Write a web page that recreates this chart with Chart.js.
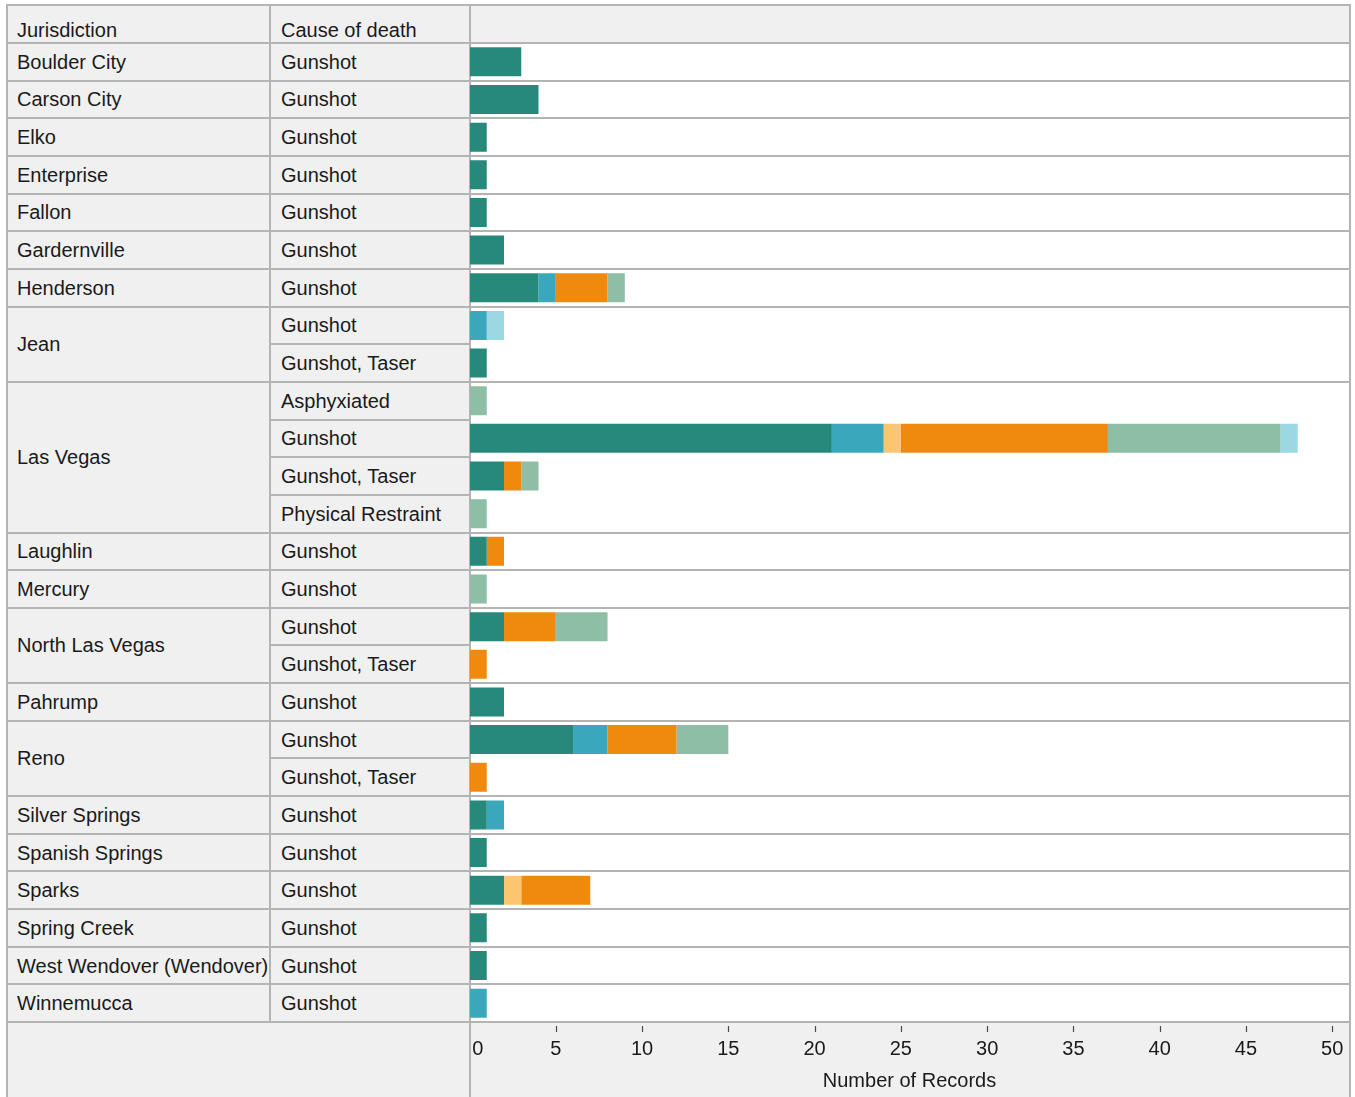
<!DOCTYPE html>
<html>
<head>
<meta charset="utf-8">
<script src="https://cdn.jsdelivr.net/npm/chart.js@4.4.1/dist/chart.umd.min.js"></script>
<style>
  html, body { margin: 0; padding: 0; background: #ffffff; }
  body { width: 1355px; height: 1097px; position: relative; overflow: hidden;
         font-family: "Liberation Sans", Arial, sans-serif; font-size: 20px; color: #1a1a1a; }
  .abs { position: absolute; box-sizing: border-box; }
  .bg { background: #f0f0f0; }
  .line { background: #b4b4b4; }
  .cell { display: flex; align-items: center; white-space: nowrap; line-height: 24px; }
  .hdr { line-height: 24px; white-space: nowrap; }
  #chart { position: absolute; left: 0; top: 0; pointer-events: none; }
</style>
</head>
<body>
<div id="table"></div>
<canvas id="chart" width="1355" height="1097"></canvas>
<script>
// ---- data ----
const jurisdictions = [
  "Boulder City", "Carson City", "Elko", "Enterprise", "Fallon", "Gardernville",
  "Henderson", "Jean", "Jean", "Las Vegas", "Las Vegas", "Las Vegas", "Las Vegas",
  "Laughlin", "Mercury", "North Las Vegas", "North Las Vegas", "Pahrump",
  "Reno", "Reno", "Silver Springs", "Spanish Springs", "Sparks", "Spring Creek",
  "West Wendover (Wendover)", "Winnemucca"
];
const causes = [
  "Gunshot", "Gunshot", "Gunshot", "Gunshot", "Gunshot", "Gunshot",
  "Gunshot", "Gunshot", "Gunshot, Taser", "Asphyxiated", "Gunshot", "Gunshot, Taser", "Physical Restraint",
  "Gunshot", "Gunshot", "Gunshot", "Gunshot, Taser", "Gunshot",
  "Gunshot", "Gunshot, Taser", "Gunshot", "Gunshot", "Gunshot", "Gunshot",
  "Gunshot", "Gunshot"
];
const tealSeries        = [3,4,1,1,1,2,4,0,1,0,21,2,0,1,0,2,0,2,6,0,1,1,2,1,1,0];
const blueSeries        = [0,0,0,0,0,0,1,1,0,0,3,0,0,0,0,0,0,0,2,0,1,0,0,0,0,1];
const lightOrangeSeries = [0,0,0,0,0,0,0,0,0,0,1,0,0,0,0,0,0,0,0,0,0,0,1,0,0,0];
const orangeSeries      = [0,0,0,0,0,0,3,0,0,0,12,1,0,1,0,3,1,0,4,1,0,0,4,0,0,0];
const sageSeries        = [0,0,0,0,0,0,1,0,0,1,10,1,1,0,1,3,0,0,3,0,0,0,0,0,0,0];
const lightCyanSeries   = [0,0,0,0,0,0,0,1,0,0,1,0,0,0,0,0,0,0,0,0,0,0,0,0,0,0];
const xTickValues = [0,5,10,15,20,25,30,35,40,45,50];
const headers = ["Jurisdiction", "Cause of death"];
const xAxisTitle = "Number of Records";

// ---- layout ----
const L = 7, COL2 = 270, CHARTL = 469.5, R = 1349.5;
const TOP = 5, BODY_TOP = 43, BODY_BOT = 1022, PAGE_BOT = 1097;
const N = jurisdictions.length;
const rowH = (BODY_BOT - BODY_TOP) / N;
const rowTop = i => BODY_TOP + i * rowH;

const table = document.getElementById('table');
function box(cls, l, t, w, h, text) {
  const d = document.createElement('div');
  d.className = 'abs ' + cls;
  d.style.left = l + 'px'; d.style.top = t + 'px';
  d.style.width = w + 'px'; d.style.height = h + 'px';
  if (text !== undefined) d.textContent = text;
  table.appendChild(d);
  return d;
}
// backgrounds
box('bg', L, TOP, R - L, BODY_TOP - TOP);
box('bg', L, BODY_TOP, CHARTL - L, BODY_BOT - BODY_TOP);
box('', CHARTL, BODY_TOP, R - CHARTL, BODY_BOT - BODY_TOP).style.background = '#ffffff';
box('bg', L, BODY_BOT, R - L, PAGE_BOT - BODY_BOT);

// header text
box('hdr', 17, BODY_TOP - 25.5, 250, 24, headers[0]);
box('hdr', 281, BODY_TOP - 25.5, 185, 24, headers[1]);

// groups
const groups = [];
jurisdictions.forEach((j, i) => {
  if (groups.length && groups[groups.length - 1].name === j) groups[groups.length - 1].end = i;
  else groups.push({ name: j, start: i, end: i });
});
groups.forEach(g => {
  const t = rowTop(g.start), b = rowTop(g.end + 1);
  box('cell', 17, t, 250, b - t, g.name);
  for (let i = g.start; i <= g.end; i++) {
    box('cell', 281, rowTop(i), 185, rowH, causes[i]);
    if (i > g.start) box('line', COL2, rowTop(i) - 1, CHARTL - COL2, 2);
  }
  box('line', L - 1, b - 1, R - L + 2, 2);
});
// structural lines
box('line', L - 1, TOP - 1, R - L + 2, 2);            // top
box('line', L - 1, BODY_TOP - 1, R - L + 2, 2);       // header bottom
box('line', L - 1, TOP - 1, 2, PAGE_BOT - TOP + 1);   // left
box('line', R - 1, TOP - 1, 2, PAGE_BOT - TOP + 1);   // right
box('line', COL2 - 1, TOP - 1, 2, BODY_BOT - TOP + 1); // col divider
box('line', CHARTL - 1, TOP - 1, 2, PAGE_BOT - TOP + 1); // chart divider

// ---- chart ----
const FONT = '"Liberation Sans", Arial, sans-serif';
const tickMarks = {
  id: 'tickMarks',
  afterDraw(chart) {
    const s = chart.scales.x, ctx = chart.ctx;
    ctx.save();
    ctx.strokeStyle = '#4a4a4a';
    ctx.lineWidth = 1.2;
    s.ticks.forEach(t => {
      if (t.value === 0) return;
      const x = Math.round(s.getPixelForValue(t.value)) + 0.5;
      ctx.beginPath();
      ctx.moveTo(x, BODY_BOT + 4);
      ctx.lineTo(x, BODY_BOT + 10);
      ctx.stroke();
    });
    ctx.restore();
  }
};

const mk = (label, data, color) => ({ label, data, backgroundColor: color, borderWidth: 0,
  categoryPercentage: 1, barPercentage: 0.77 });

new Chart(document.getElementById('chart'), {
  type: 'bar',
  data: {
    labels: jurisdictions.map((j, i) => j + ' / ' + causes[i]),
    datasets: [
      mk('Series 1', tealSeries, '#26897b'),
      mk('Series 2', blueSeries, '#3ba7bd'),
      mk('Series 3', lightOrangeSeries, '#fcc56f'),
      mk('Series 4', orangeSeries, '#f08a0e'),
      mk('Series 5', sageSeries, '#8ebea6'),
      mk('Series 6', lightCyanSeries, '#9ad8e3')
    ]
  },
  options: {
    indexAxis: 'y',
    responsive: false,
    animation: false,
    devicePixelRatio: 1,
    layout: { padding: { left: CHARTL, right: 1355 - R, top: BODY_TOP, bottom: 0 } },
    plugins: { legend: { display: false }, tooltip: { enabled: false } },
    scales: {
      y: { stacked: true, display: false, offset: true },
      x: {
        stacked: true, min: 0, max: 51, position: 'bottom',
        afterBuildTicks: s => { s.ticks = xTickValues.map(v => ({ value: v })); },
        afterFit: s => { s.height = PAGE_BOT - BODY_BOT; s.paddingLeft = 0; s.paddingRight = 0; },
        border: { display: false },
        grid: { display: true, drawOnChartArea: false, drawTicks: false },
        ticks: {
          font: { family: FONT, size: 20 }, color: '#1a1a1a', padding: 15,
          maxRotation: 0, autoSkip: false,
          callback: v => (v === 0 ? '   0' : String(v))
        },
        title: { display: true, text: xAxisTitle, color: '#1a1a1a',
                 font: { family: FONT, size: 20 }, padding: { top: 4, bottom: 4 } }
      }
    }
  },
  plugins: [tickMarks]
});
</script>
</body>
</html>
